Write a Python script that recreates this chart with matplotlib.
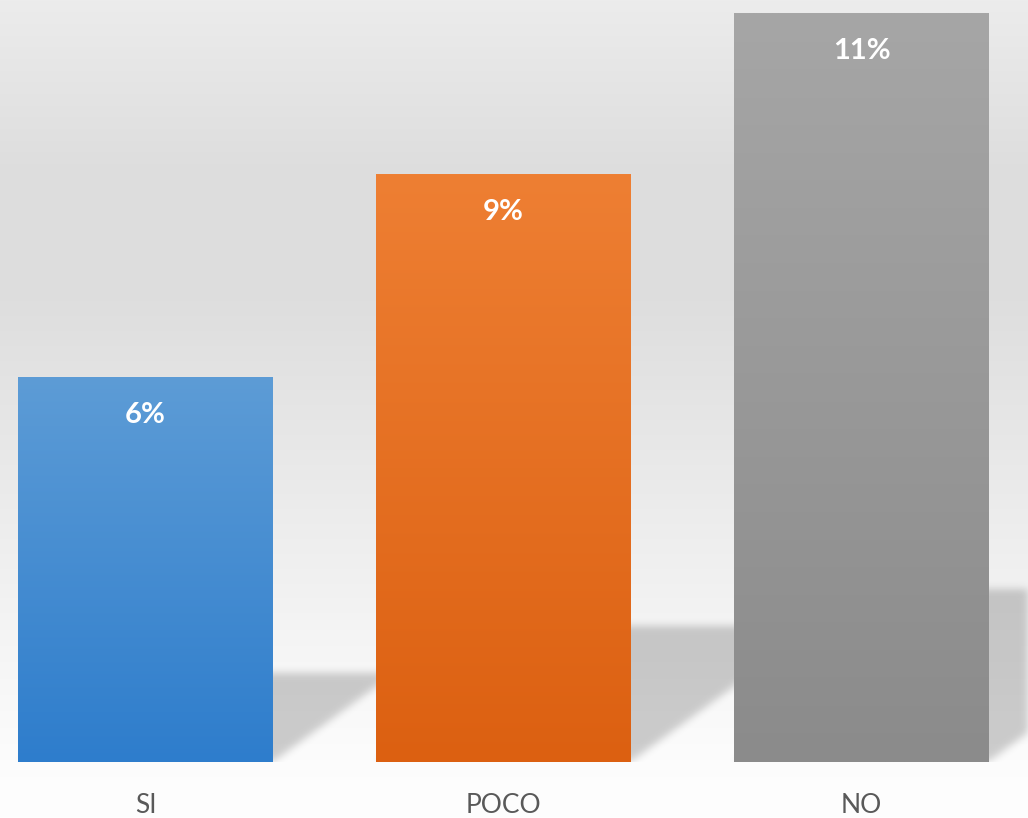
import numpy as np
import matplotlib
matplotlib.use("Agg")
import matplotlib.pyplot as plt
from matplotlib.path import Path

categories = ["SI", "POCO", "NO"]
values = [0.0576, 0.0879, 0.112]
top_colors = ["#5d9cd6", "#ee7f33", "#a6a6a6"]
bottom_colors = ["#2e7dcc", "#dc6011", "#8b8b8b"]

W, H = 1028, 818
fig = plt.figure(figsize=(W / 100, H / 100), dpi=100)

# background gradient
bg = fig.add_axes([0, 0, 1, 1], zorder=-10)
stops_pos = [0.0, 0.2, 0.35, 0.75, 0.95, 1.0]
stops_val = [236, 222, 221, 243, 253, 254]
yy = np.linspace(0, 1, H)
g = np.interp(yy, stops_pos, stops_val) / 255.0
img = np.repeat(np.stack([g, g, g], axis=1)[:, None, :], 2, axis=1)
bg.imshow(img, aspect="auto", extent=(0, 1, 0, 1), origin="upper")
bg.set_axis_off()

base_px = 762
ax = fig.add_axes([0, (H - base_px) / H, 1, base_px / H])
ax.patch.set_alpha(0)
x = np.arange(len(categories))
xlim = (-145.5 / 358, (W - 145.5) / 358)
ymax = max(values) * base_px / 749
width = 255 / 358

px_per_x = W / (xlim[1] - xlim[0])
px_per_y = base_px / ymax

# shadows (blurred raster)
nx, ny = W, base_px
gx = np.linspace(xlim[0], xlim[1], nx)
gy = np.linspace(0, ymax, ny)
GX, GY = np.meshgrid(gx, gy)
pts = np.column_stack([GX.ravel(), GY.ravel()])
mask = np.zeros(GX.size)
for xi, v in zip(x, values):
    dy = 0.23 * v
    dx = (dy * px_per_y / 0.73) / px_per_x
    poly = Path([(xi - width / 2, 0), (xi + width / 2, 0),
                 (xi + width / 2 + dx, dy), (xi - width / 2 + dx, dy)])
    mask = np.maximum(mask, poly.contains_points(pts).astype(float))
mask = mask.reshape(ny, nx)

def blur(a, s, axis):
    r = int(3 * s)
    k = np.exp(-0.5 * (np.arange(-r, r + 1) / s) ** 2)
    k /= k.sum()
    return np.apply_along_axis(lambda m: np.convolve(m, k, mode="same"), axis, a)

mask = blur(blur(mask, 4, 0), 4, 1)
rgba = np.zeros((ny, nx, 4))
rgba[..., 3] = mask * 0.19
ax.imshow(rgba, extent=(xlim[0], xlim[1], 0, ymax), origin="lower",
          aspect="auto", zorder=1, interpolation="bilinear")

bars = ax.bar(x, values, width=width, color="none", zorder=2)
for b, tc, bc in zip(bars, top_colors, bottom_colors):
    t = np.array(matplotlib.colors.to_rgb(tc))
    bo = np.array(matplotlib.colors.to_rgb(bc))
    s = np.linspace(0, 1, 256)[:, None]
    grad = (t * (1 - s) + bo * s)[:, None, :]
    x0 = b.get_x()
    im = ax.imshow(grad, extent=(x0, x0 + b.get_width(), 0, b.get_height()),
                   origin="upper", aspect="auto", zorder=2)
    im.set_clip_path(b)

for xi, v in zip(x, values):
    ax.annotate(f"{v:.0%}", (xi, v), xytext=(0, -27.5), textcoords="offset points",
                ha="center", va="center", color="white", fontsize=21,
                fontweight="bold", family="Lato", zorder=3)

ax.set_xlim(*xlim)
ax.set_ylim(0, ymax)
ax.set_xticks(x)
ax.set_xticklabels(categories, fontsize=19, color="#595959", family="Lato")
ax.tick_params(axis="x", length=0, pad=22)
ax.set_yticks([])
for sp in ax.spines.values():
    sp.set_visible(False)

fig.savefig("out.png", dpi=100)
